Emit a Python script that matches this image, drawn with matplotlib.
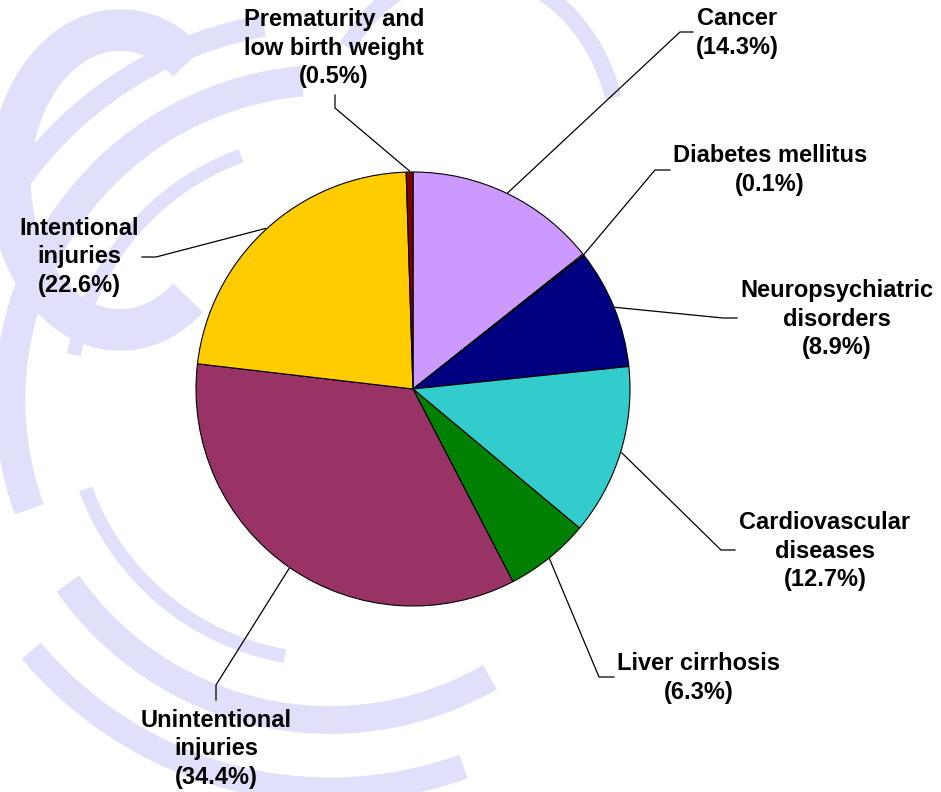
import numpy as np
import matplotlib.pyplot as plt
from matplotlib.patches import Arc

plt.rcParams['font.family'] = ['Liberation Sans', 'DejaVu Sans']

# data (percent of deaths)
causes = ['Cancer', 'Diabetes mellitus', 'Neuropsychiatric\ndisorders',
          'Cardiovascular\ndiseases', 'Liver cirrhosis', 'Unintentional\ninjuries',
          'Intentional\ninjuries', 'Prematurity and\nlow birth weight']
shares = [14.3, 0.1, 8.9, 12.7, 6.3, 34.4, 22.6, 0.5]
colors = ['#CC99FF', '#E8E8E8', '#000080', '#33CCCC', '#008000', '#993366',
          '#FFCC00', '#800000']

W, H = 941, 792
CX, CY, R = 413, 389, 217

# label block centre, elbow start (near text), elbow end  (pixel coords, y down)
label_pos = [(737, 33), (770, 170), (837, 319), (825, 551), (699, 678),
             (216, 749), (79, 257), (334, 48)]
elbows = [((693, 32), (680, 32)), ((670, 170), (655, 170)), ((737, 318), (723, 318)),
          ((735, 550), (721, 550)), ((614, 677), (599, 677)), ((216, 700), (216, 685)),
          ((142, 257), (156, 257)), ((335, 95), (335, 108))]

fig = plt.figure(figsize=(W / 100, H / 100), dpi=100)
ax = fig.add_axes([0, 0, 1, 1])

def fy(y):
    return H - y

# faint watermark (emblem) in the background
wm = '#E0E0FA'
for (cx, cy, w, h, t1, t2, lw) in [
        (330, 400, 640, 640, 95, 200, 22), (330, 400, 760, 760, 100, 185, 16),
        (330, 400, 640, 640, 215, 300, 20), (330, 400, 780, 780, 220, 290, 18),
        (330, 400, 520, 520, 110, 170, 10), (330, 400, 520, 520, 200, 260, 10),
        (120, 180, 220, 300, 60, 300, 30), (470, 150, 300, 360, 20, 140, 12)]:
    ax.add_patch(Arc((cx, fy(cy)), w, h, theta1=t1, theta2=t2, color=wm,
                     lw=lw, zorder=0))

wedges, _ = ax.pie(shares, colors=colors, startangle=90, counterclock=False,
                   center=(CX, fy(CY)), radius=R, frame=True,
                   wedgeprops=dict(edgecolor='black', linewidth=0.8))
ax.set_xlim(0, W)
ax.set_ylim(0, H)
ax.axis('off')

for wdg, name, share, (lx, ly), (p1, p2) in zip(wedges, causes, shares, label_pos, elbows):
    mid = np.deg2rad((wdg.theta1 + wdg.theta2) / 2)
    rx = CX + (R + 1) * np.cos(mid)
    ry = fy(CY) + (R + 1) * np.sin(mid)
    ax.plot([p1[0], p2[0], rx], [fy(p1[1]), fy(p2[1]), ry], color='black', lw=0.9,
            zorder=3)
    ax.text(lx, fy(ly), '%s\n(%.1f%%)' % (name, share), ha='center', va='center',
            fontsize=17, fontweight='bold', linespacing=1.28, zorder=4)

fig.savefig('out.png', dpi=100)
